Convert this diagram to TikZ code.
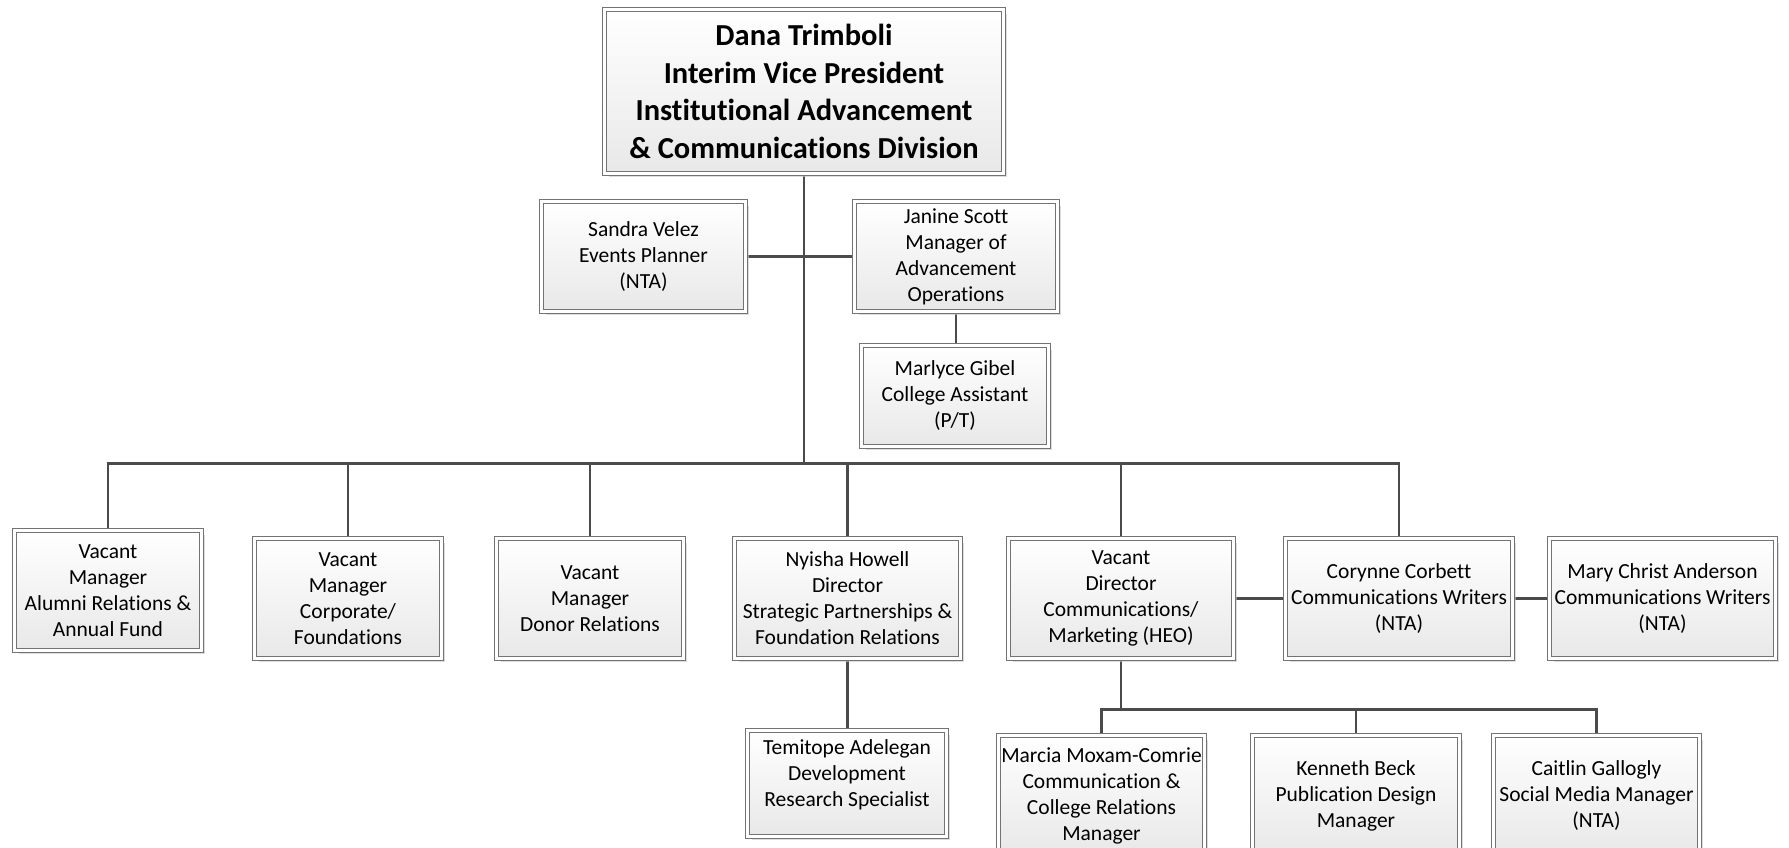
\documentclass[tikz,border=0pt]{standalone}
\usepackage{fontspec}
\setmainfont{Carlito}[Ligatures=NoCommon]
\usetikzlibrary{shadows,backgrounds}
\definecolor{edgec}{RGB}{75,75,75}
\definecolor{bordc}{RGB}{115,115,115}
\definecolor{fillb}{RGB}{232,232,232}
\tikzset{
  box/.style={rectangle, draw=bordc, line width=0.9pt, double=white, double distance=3.5pt,
    top color=white, bottom color=fillb, inner sep=0pt, align=center,
    font=\fontsize{21.5}{26}\selectfont,
    drop shadow={shadow xshift=4pt, shadow yshift=-4pt, fill=black!22, opacity=0.6}},
  topbox/.style={box, font=\bfseries\fontsize{30.5}{37.7}\selectfont},
  conn/.style={draw=edgec, line width=2.8pt, line join=miter},
}
\begin{document}
\begin{tikzpicture}[x=1pt, y=-1pt]
\useasboundingbox (0,0) rectangle (1789,847);
% nodes
\node[topbox, minimum width=398.7pt, minimum height=163.7pt] (top) at (804,91.5)
  {Dana Trimboli\\Interim Vice President\\Institutional Advancement\\\& Communications Division};
\node[box, minimum width=203.7pt, minimum height=109.7pt] (sandra) at (643.5,256.5)
  {Sandra Velez\\Events Planner\\(NTA)};
\node[box, minimum width=202.7pt, minimum height=109.7pt] (janine) at (956,256.5)
  {Janine Scott\\Manager of\\Advancement\\Operations};
\node[box, minimum width=186.7pt, minimum height=100.7pt] (marlyce) at (955,396)
  {Marlyce Gibel\\College Assistant\\(P/T)};
\node[box, minimum width=186.7pt, minimum height=119.7pt] (alumni) at (108,590.5)
  {Vacant\\Manager\\Alumni Relations \&\\Annual Fund};
\node[box, minimum width=186.7pt, minimum height=119.7pt] (corporate) at (348,598.5)
  {Vacant\\Manager\\Corporate/\\Foundations};
\node[box, minimum width=186.7pt, minimum height=119.7pt] (donor) at (590,598.5)
  {Vacant\\Manager\\Donor Relations};
\node[box, minimum width=225.7pt, minimum height=119.7pt] (nyisha) at (847.5,598.5)
  {Nyisha Howell\\Director\\Strategic Partnerships \&\\Foundation Relations};
\node[box, minimum width=224.7pt, minimum height=119.7pt] (commdir) at (1121,598.5)
  {Vacant\\Director\\Communications/\\Marketing (HEO)};
\node[box, minimum width=226.7pt, minimum height=119.7pt] (corynne) at (1399,598.5)
  {Corynne Corbett\\Communications Writers\\(NTA)};
\node[box, minimum width=225.7pt, minimum height=119.7pt] (mary) at (1662.5,598.5)
  {Mary Christ Anderson\\Communications Writers\\(NTA)};
\node[box, minimum width=198.7pt, minimum height=105.7pt] (temitope) at (847,783.5)
  {Temitope Adelegan\\Development\\Research Specialist\\[-13pt]\strut};
\node[box, minimum width=205.7pt, minimum height=119.7pt] (marcia) at (1101.5,795.5)
  {Marcia Moxam-Comrie\\Communication \&\\College Relations\\Manager};
\node[box, minimum width=206.7pt, minimum height=119.7pt] (kenneth) at (1356,795.5)
  {Kenneth Beck\\Publication Design\\Manager};
\node[box, minimum width=205.7pt, minimum height=119.7pt] (caitlin) at (1596.5,795.5)
  {Caitlin Gallogly\\Social Media Manager\\(NTA)};
\coordinate (bus) at (0,463.3);
\coordinate (sub) at (0,709.5);
% connectors
\begin{scope}[on background layer]
\fill[white] (0,0) rectangle (1789,847);
\draw[conn] (top.south) -- (top.south |- bus);
\draw[conn] (sandra.east) -- (janine.west);
\draw[conn] (janine.south) -- (janine.south |- marlyce.north);
\draw[conn] (alumni.north) -- (alumni.north |- bus) -- (corynne.north |- bus) -- (corynne.north);
\foreach \n in {corporate,donor,nyisha,commdir}
  \draw[conn] (\n.north) -- (\n.north |- bus);
\draw[conn] (commdir.east) -- (corynne.west);
\draw[conn] (corynne.east) -- (mary.west);
\draw[conn] (nyisha.south) -- (nyisha.south |- temitope.north);
\draw[conn] (commdir.south) -- (commdir.south |- sub);
\draw[conn] (marcia.north) -- (marcia.north |- sub) -- (caitlin.north |- sub) -- (caitlin.north);
\draw[conn] (kenneth.north) -- (kenneth.north |- sub);
\end{scope}
\end{tikzpicture}
\end{document}
